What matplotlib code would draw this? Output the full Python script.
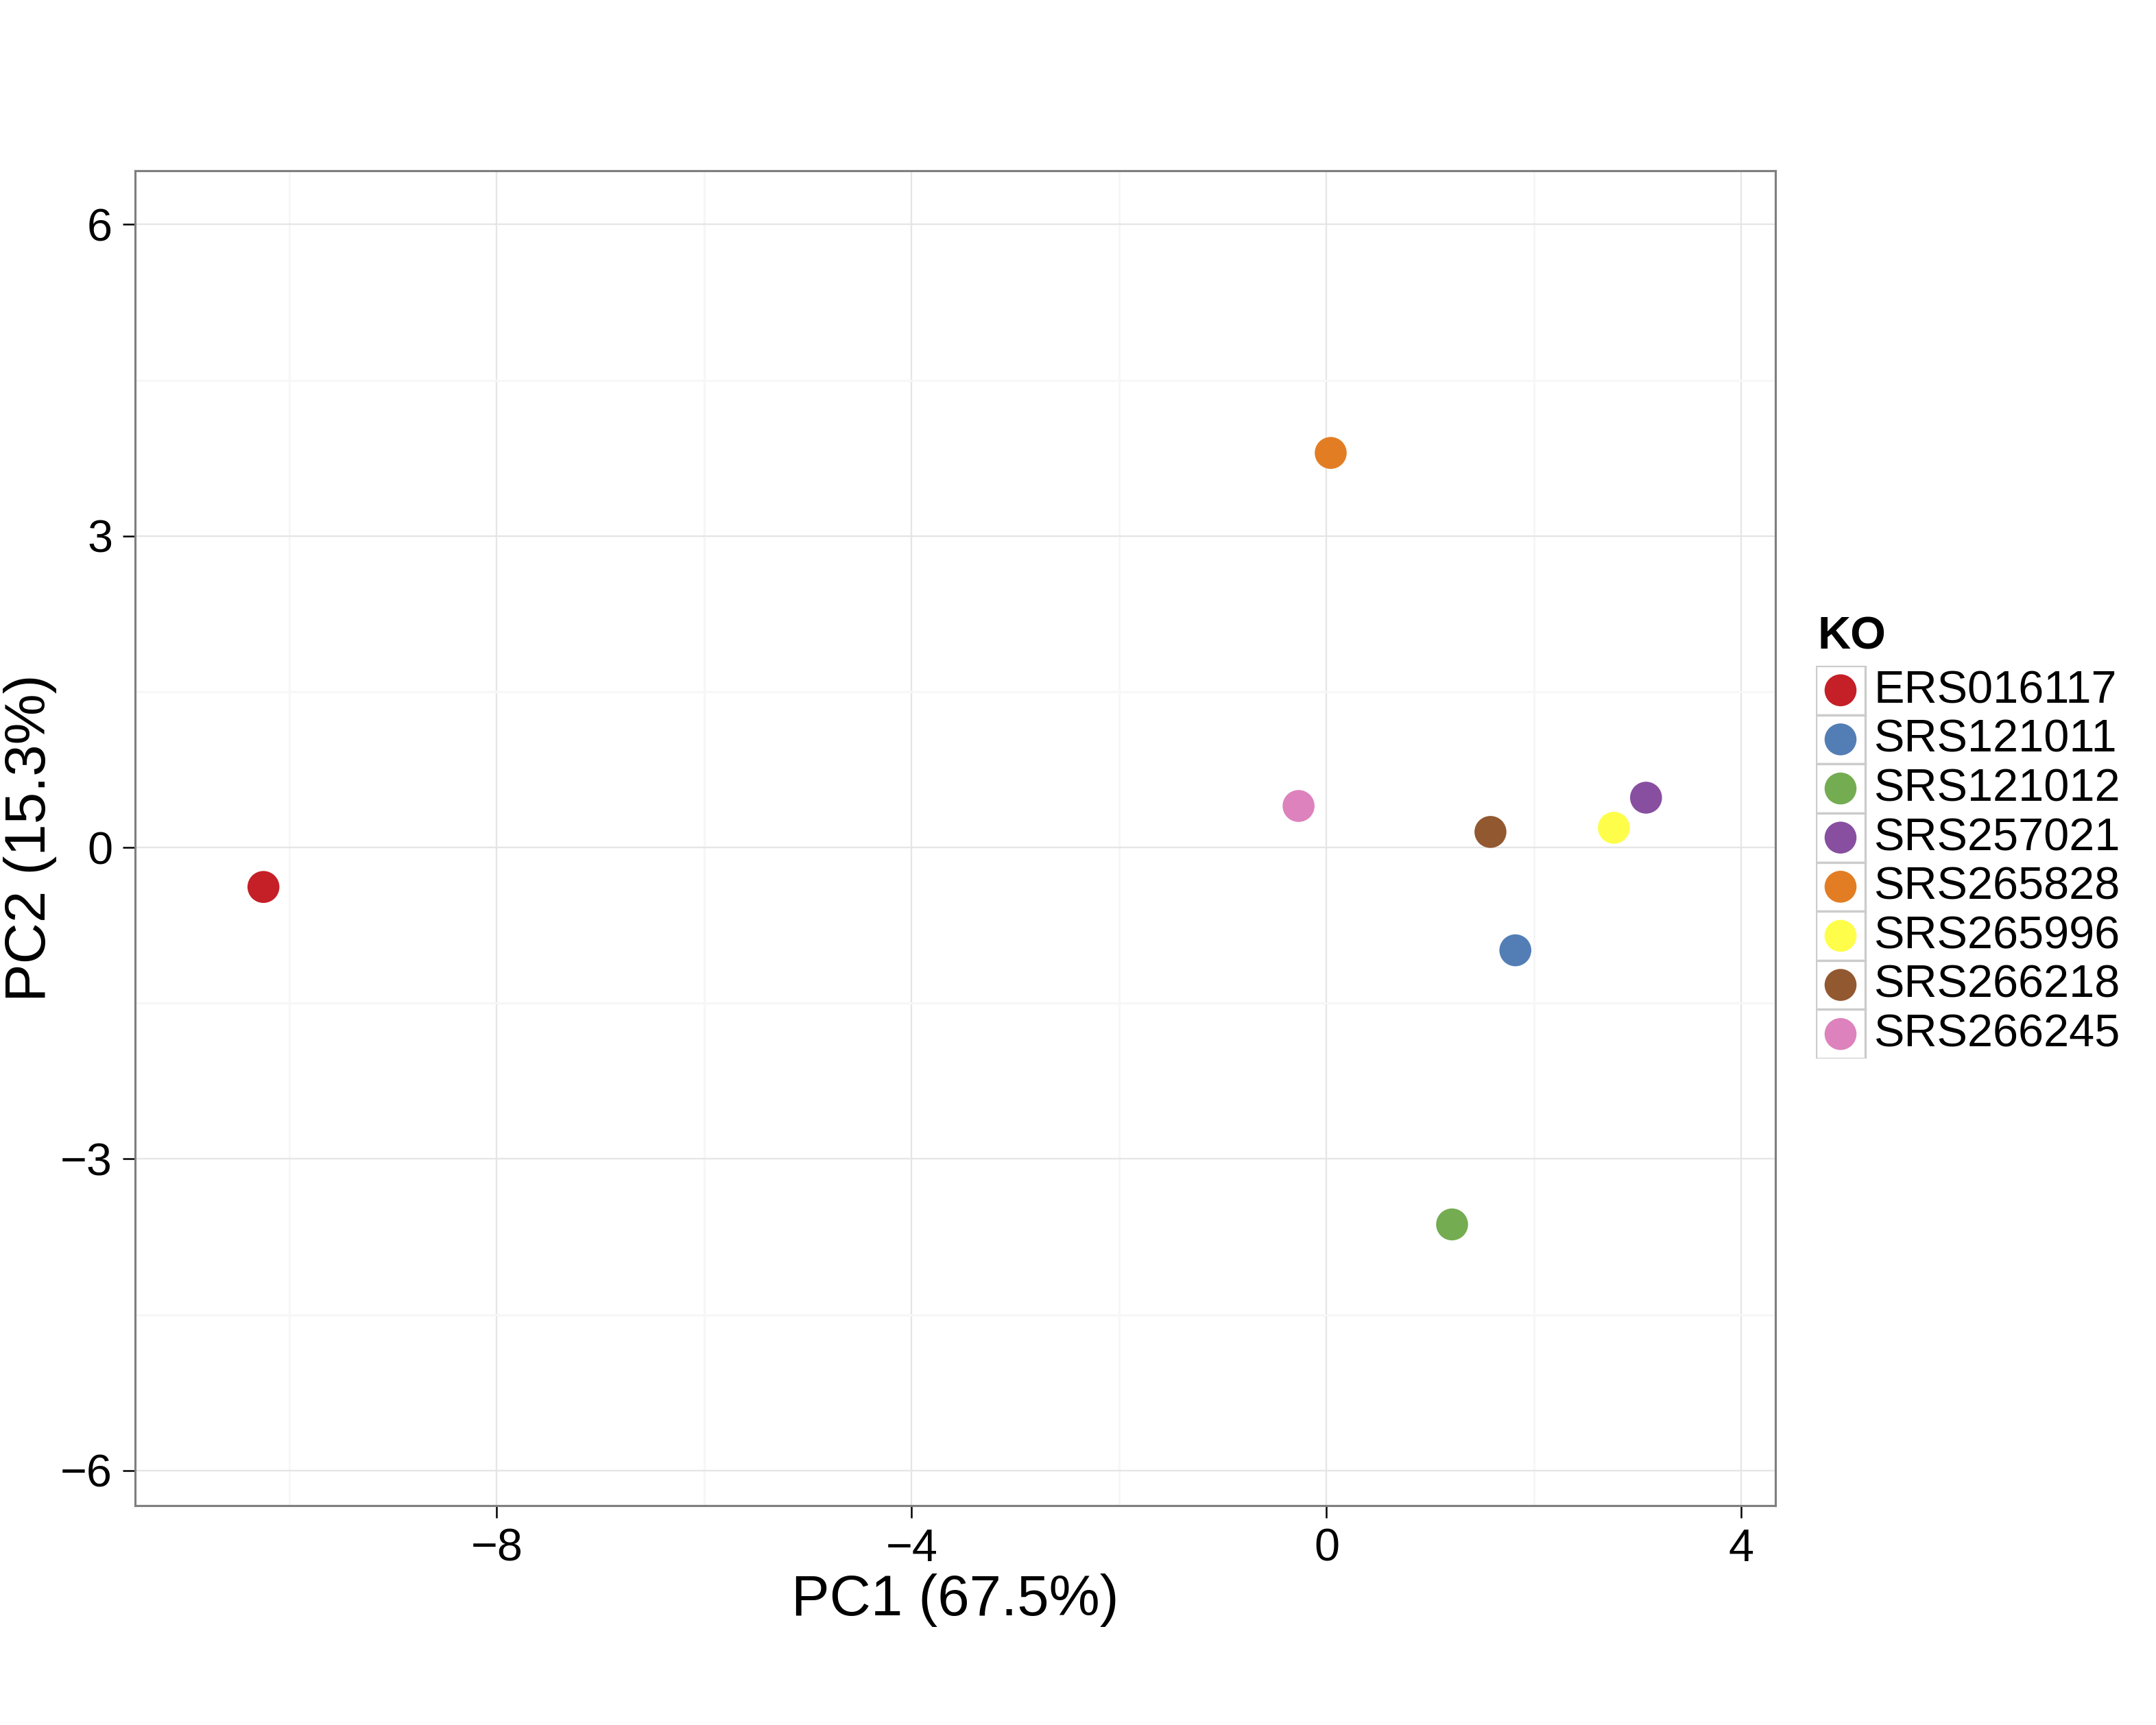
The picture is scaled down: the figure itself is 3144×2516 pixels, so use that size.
import matplotlib

matplotlib.use("Agg")
import matplotlib.pyplot as plt
from matplotlib.patches import Rectangle
from matplotlib.ticker import FixedLocator, FuncFormatter

plt.rcParams["font.family"] = ["Liberation Sans", "DejaVu Sans"]

# PCA scores
samples = ["ERS016117", "SRS121011", "SRS121012", "SRS257021",
           "SRS265828", "SRS265996", "SRS266218", "SRS266245"]
pc1 = [-10.25, 1.82, 1.21, 3.08, 0.04, 2.77, 1.58, -0.27]
pc2 = [-0.38, -0.99, -3.63, 0.48, 3.80, 0.19, 0.15, 0.40]
colors = ["#C51F27", "#537EB5", "#74AC51", "#884FA0",
          "#E37D23", "#FEFE4A", "#925830", "#DD82BC"]
x_ticks = [-8, -4, 0, 4]
y_ticks = [-6, -3, 0, 3, 6]
x_minor = [-10, -6, -2, 2]
y_minor = [-4.5, -1.5, 1.5, 4.5]
x_title = "PC1 (67.5%)"
y_title = "PC2 (15.3%)"
legend_title = "KO"

W, H = 3145, 2516
fig = plt.figure(figsize=(W / 300, H / 300), dpi=300)
fig.patch.set_facecolor("white")

# main panel, placed in pixels
left, right, top, bottom = 196.6, 2589.4, 248.7, 2196.3
ax = fig.add_axes([left / W, 1 - bottom / H, (right - left) / W, (bottom - top) / H])
ax.set_xlim(-11.49, 4.33)
ax.set_ylim(-6.34, 6.52)

ax.xaxis.set_major_locator(FixedLocator(x_ticks))
ax.yaxis.set_major_locator(FixedLocator(y_ticks))
ax.xaxis.set_minor_locator(FixedLocator(x_minor))
ax.yaxis.set_minor_locator(FixedLocator(y_minor))
fmt = FuncFormatter(lambda v, _: f"{v:g}".replace("-", "\u2212"))
ax.xaxis.set_major_formatter(fmt)
ax.yaxis.set_major_formatter(fmt)

ax.grid(which="major", color="#E5E5E5", linewidth=0.55, zorder=0)
ax.grid(which="minor", color="#F7F7F7", linewidth=0.75, zorder=0)
ax.set_axisbelow(True)
ax.tick_params(which="minor", length=0)
ax.tick_params(which="major", length=4.3, width=0.6, color="black",
               labelsize=16, labelcolor="black", pad=3.5)
for sp in ax.spines.values():
    sp.set_color("#7F7F7F")
    sp.set_linewidth(0.75)

ax.scatter(pc1, pc2, s=125, c=colors, edgecolors="none", zorder=3)

ax.set_xlabel(x_title, fontsize=20)
ax.set_ylabel(y_title, fontsize=20)
ax.xaxis.set_label_coords(0.5, (bottom - 2334) / (bottom - top))
ax.yaxis.set_label_coords((44 - left) / (right - left), 0.5)
ax.xaxis.label.set_va("center")
ax.yaxis.label.set_va("center")

# ggplot-style legend with boxed keys
lx0, ltop, lbot = 2648, 971, 1544
key_w = 72
lax = fig.add_axes([lx0 / W, 1 - lbot / H, (W - lx0) / W, (lbot - ltop) / H])
lax.set_xlim(0, (W - lx0) / key_w)
lax.set_ylim(len(samples), 0)
lax.axis("off")
for i, (name, col) in enumerate(zip(samples, colors)):
    lax.add_patch(Rectangle((0, i), 1, 1, facecolor="white",
                            edgecolor="#CCCCCC", linewidth=0.8))
    lax.scatter([0.5], [i + 0.5], s=125, c=[col], edgecolors="none", zorder=3)
    lax.text(1.17, i + 0.52, name, fontsize=16, va="center", ha="left")
lax.text(0.03, -0.58, legend_title, fontsize=16, fontweight="bold",
         va="center", ha="left", clip_on=False)

fig.savefig("out.png", dpi=300)
